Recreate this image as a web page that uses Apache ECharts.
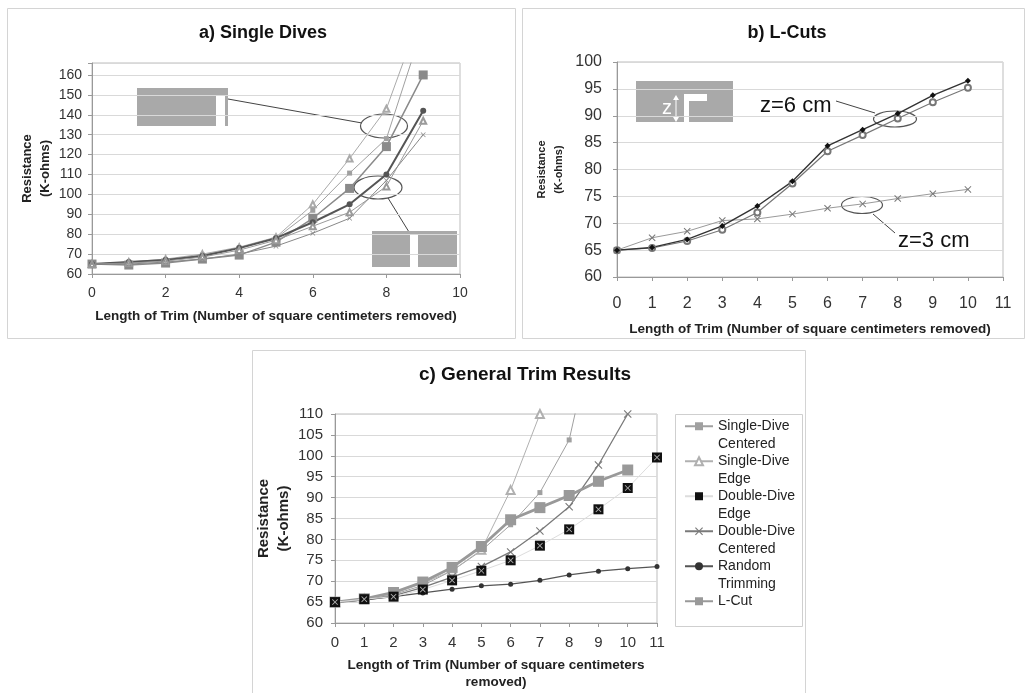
<!DOCTYPE html>
<html><head><meta charset="utf-8">
<script src="https://cdn.jsdelivr.net/npm/echarts@6/dist/echarts.min.js"></script>
<style>html,body{margin:0;padding:0;background:#fff}#c{width:1033px;height:693px}</style>
</head><body><div id="c"></div>
<script>
const FONT = 'Liberation Sans, Arial, sans-serif';

// ---- Panel a) Single Dives ----
const aTrim   = [0, 1, 2, 3, 4, 5, 6, 7, 8, 9];
const aEdge1  = [65, 66, 67.5, 70, 73.5, 78.5, 95, 118, 143, 194];
const aEdge2  = [65, 65.5, 67, 69.5, 73, 78, 92, 110.7, 128, 185];
const aEdge3  = [65, 64.5, 65.5, 67.5, 69.5, 76, 88, 103, 124, 160];
const aCent1  = [65, 66, 67, 69, 73, 78, 86, 95, 110, 142];
const aCent2  = [65, 65.5, 66.5, 68.5, 72, 77, 84, 91, 104, 137];
const aCent3  = [65, 65, 66, 67.5, 70, 74, 80.5, 88, 107, 130];
const aXTicks = [0, 2, 4, 6, 8, 10];
const aYTicks = [60, 70, 80, 90, 100, 110, 120, 130, 140, 150, 160];

// ---- Panel b) L-Cuts ----
const bTrim  = [0, 1, 2, 3, 4, 5, 6, 7, 8, 9, 10];
const bZ6a   = [65, 65.5, 67, 69.5, 73.2, 77.8, 84.4, 87.4, 90.4, 93.8, 96.5];
const bZ6b   = [65, 65.4, 66.7, 68.8, 72, 77.4, 83.4, 86.4, 89.5, 92.5, 95.2];
const bZ3    = [65, 67.3, 68.5, 70.5, 70.8, 71.7, 72.8, 73.6, 74.6, 75.5, 76.3];
const bYTicks = [60, 65, 70, 75, 80, 85, 90, 95, 100];

// ---- Panel c) General Trim Results ----
const cTrim        = [0, 1, 2, 3, 4, 5, 6, 7, 8, 9, 10, 11];
const cSingleCent  = [65, 65.5, 66.8, 69, 72.5, 77.3, 83.5, 91.2, 103.8, 135];
const cSingleEdge  = [65, 65.8, 67, 69.5, 72.5, 77.5, 91.8, 110];
const cDoubleEdge  = [65, 65.7, 66.3, 68, 70.2, 72.5, 75, 78.5, 82.4, 87.2, 92.3, 99.6];
const cDoubleCent  = [65, 65.5, 66.5, 68.5, 71, 73.5, 77, 82, 87.8, 97.8, 110];
const cRandom      = [65, 65.5, 66.3, 67.2, 68.1, 68.9, 69.3, 70.2, 71.5, 72.4, 73, 73.5];
const cLCut        = [65, 65.8, 67.3, 69.8, 73.3, 78.3, 84.7, 87.6, 90.5, 93.9, 96.6];
const cYTicks = [60, 65, 70, 75, 80, 85, 90, 95, 100, 105, 110];
const cNames = ['Single-Dive\nCentered', 'Single-Dive\nEdge', 'Double-Dive\nEdge', 'Double-Dive\nCentered', 'Random\nTrimming', 'L-Cut'];

const xTitle = 'Length of Trim (Number of square centimeters removed)';
const xTitleC = 'Length of Trim (Number of square centimeters\nremoved)';
const yTitle = 'Resistance\n(K-ohms)';

const XPATH = 'path://M0,1 L1,0 L5,4 L9,0 L10,1 L6,5 L10,9 L9,10 L5,6 L1,10 L0,9 L4,5 Z';

function pts(xs, ys) { return ys.map((v, i) => [xs[i], v]); }

function xAx(gi, max, interval, fs, margin, name, nameGap) {
  return {
    type: 'value', gridIndex: gi, min: 0, max: max, interval: interval,
    name: name, nameLocation: 'middle', nameGap: nameGap,
    nameTextStyle: { fontFamily: FONT, fontWeight: 'bold', fontSize: 13.5, color: '#222', lineHeight: 17 },
    axisLine: { show: true, lineStyle: { color: '#999', width: 1 } },
    axisTick: { show: true, length: 4, lineStyle: { color: '#999' } },
    axisLabel: { fontFamily: FONT, fontSize: fs, color: '#333', margin: margin },
    splitLine: { show: false }
  };
}
function yAx(gi, max, interval, fs, margin, nameGap, nameFs, nameLH, ticks) {
  return {
    type: 'value', gridIndex: gi, min: 60, max: max, interval: interval,
    name: yTitle, nameLocation: 'middle', nameRotate: 90, nameGap: nameGap,
    nameTextStyle: { fontFamily: FONT, fontWeight: 'bold', fontSize: nameFs, color: '#222', lineHeight: nameLH },
    axisLine: { show: true, lineStyle: { color: '#999', width: 1 } },
    axisTick: { show: true, length: 4, lineStyle: { color: '#999' } },
    axisLabel: { fontFamily: FONT, fontSize: fs, color: '#333', margin: margin,
      formatter: v => (ticks.indexOf(v) >= 0 ? String(v) : '') },
    splitLine: { show: true, lineStyle: { color: '#d9d9d9', width: 1 } }
  };
}
function ln(name, gi, data, color, symbol, size, width, extra) {
  return Object.assign({
    type: 'line', name: name, xAxisIndex: gi, yAxisIndex: gi, data: data,
    symbol: symbol, symbolSize: size, showSymbol: true, clip: true,
    lineStyle: { color: color, width: width },
    itemStyle: { color: color },
    emphasis: { disabled: true }, animation: false, silent: true
  }, extra || {});
}

const series = [
  // a
  ln('a1', 0, pts(aTrim, aEdge1), '#aaaaaa', 'emptyTriangle', 6, 1),
  ln('a2', 0, pts(aTrim, aEdge2), '#a0a0a0', 'rect', 5, 1),
  ln('a3', 0, pts(aTrim, aEdge3), '#8a8a8a', 'rect', 9, 1.5),
  ln('a4', 0, pts(aTrim, aCent1), '#555555', 'circle', 6, 2),
  ln('a5', 0, pts(aTrim, aCent2), '#9a9a9a', 'emptyTriangle', 6, 1),
  ln('a6', 0, pts(aTrim, aCent3), '#888888', XPATH, 5, 1),
  // b
  ln('b3', 1, pts(bTrim, bZ3), '#9a9a9a', XPATH, 7, 1, { itemStyle: { color: '#777' } }),
  ln('b2', 1, pts(bTrim, bZ6b), '#777777', 'emptyCircle', 6, 1.2),
  ln('b1', 1, pts(bTrim, bZ6a), '#333333', 'diamond', 6, 1.4, { itemStyle: { color: '#111' } }),
  // c
  ln(cNames[0], 2, pts(cTrim, cSingleCent), '#a0a0a0', 'rect', 5, 1),
  ln(cNames[1], 2, pts(cTrim, cSingleEdge), '#b0b0b0', 'emptyTriangle', 8, 1),
  ln(cNames[3], 2, pts(cTrim, cDoubleCent), '#7a7a7a', XPATH, 8, 1.3),
  ln(cNames[4], 2, pts(cTrim, cRandom), '#555555', 'circle', 5, 1.2, { itemStyle: { color: '#333' } }),
  ln(cNames[5], 2, pts(cTrim, cLCut), '#999999', 'rect', 11, 2.8),
  ln(cNames[2], 2, pts(cTrim, cDoubleEdge), '#dddddd', 'rect', 10, 1, { itemStyle: { color: '#111' }, z: 5 }),
  { type: 'scatter', name: 'ddEdgeMark', xAxisIndex: 2, yAxisIndex: 2, data: pts(cTrim, cDoubleEdge),
    symbol: XPATH, symbolSize: 6, itemStyle: { color: '#d8d8d8' }, z: 6, silent: true, animation: false }
];

function T(x, y, text, fs, weight, align, fill) {
  return { type: 'text', x: x, y: y, silent: true,
    style: { text: text, fontFamily: FONT, fontSize: fs, fontWeight: weight || 'normal',
      align: align || 'center', verticalAlign: 'middle', fill: fill || '#111' } };
}
function R(x, y, w, h, fill, stroke) {
  return { type: 'rect', silent: true, shape: { x: x, y: y, width: w, height: h },
    style: { fill: fill || 'none', stroke: stroke || 'none', lineWidth: 1 } };
}
function L(x1, y1, x2, y2, color, w) {
  return { type: 'line', silent: true, shape: { x1: x1, y1: y1, x2: x2, y2: y2 },
    style: { stroke: color || '#444', lineWidth: w || 1 } };
}
function E(cx, cy, rx, ry) {
  return { type: 'ellipse', silent: true, shape: { cx: cx, cy: cy, rx: rx, ry: ry },
    style: { fill: 'none', stroke: '#555', lineWidth: 1.2 } };
}

const graphics = [
  // frames
  R(7.5, 8.5, 508, 330, 'none', '#d4d4d4'),
  R(522.5, 8.5, 502, 330, 'none', '#d4d4d4'),
  R(252.5, 350.5, 553, 345, 'none', '#d4d4d4'),
  // titles
  T(263, 33, 'a) Single Dives', 18, 'bold'),
  T(787, 33, 'b) L-Cuts', 18, 'bold'),
  T(525, 375, 'c) General Trim Results', 19, 'bold'),
  // panel a insets
  R(137, 88, 91, 38, '#a9a9a9'),
  R(216, 96, 9, 30, '#ffffff'),
  L(228, 99, 362, 123),
  E(384, 126, 23.5, 12),
  E(378, 187.5, 24, 11.5),
  L(388, 198, 409, 232),
  R(372, 231, 85, 36, '#a9a9a9'),
  R(410, 235, 8, 32, '#ffffff'),
  // panel b inset
  R(636, 81, 97, 41, '#a9a9a9'),
  R(684, 94, 5, 28, '#ffffff'),
  R(684, 94, 23, 7, '#ffffff'),
  T(667, 108, 'z', 20, 'normal', 'center', '#ffffff'),
  L(676, 97, 676, 120, '#ffffff', 1),
  { type: 'polygon', silent: true, shape: { points: [[673, 100], [676, 95], [679, 100]] }, style: { fill: '#fff' } },
  { type: 'polygon', silent: true, shape: { points: [[673, 117], [676, 122], [679, 117]] }, style: { fill: '#fff' } },
  T(760, 106, 'z=6 cm', 22, 'normal', 'left', '#111'),
  L(836, 101, 875, 113),
  E(895, 119, 21.5, 8),
  E(862, 205, 20.5, 8.5),
  L(873, 214, 895, 233),
  T(898, 241, 'z=3 cm', 22, 'normal', 'left', '#111'),
  // panel c legend box
  R(675.5, 414.5, 127, 212, 'none', '#cfcfcf')
];

const chart = echarts.init(document.getElementById('c'), null, { renderer: 'canvas' });
chart.setOption({
  backgroundColor: '#ffffff',
  animation: false,
  textStyle: { fontFamily: FONT },
  grid: [
    { left: 92, top: 63, width: 368, height: 211, show: true, borderColor: '#bdbdbd', borderWidth: 1, backgroundColor: '#fff', outerBoundsMode: 'none', containLabel: false },
    { left: 617, top: 62, width: 386, height: 215, show: true, borderColor: '#bdbdbd', borderWidth: 1, backgroundColor: '#fff', outerBoundsMode: 'none', containLabel: false },
    { left: 335, top: 414, width: 322, height: 209, show: true, borderColor: '#bdbdbd', borderWidth: 1, backgroundColor: '#fff', outerBoundsMode: 'none', containLabel: false }
  ],
  xAxis: [
    xAx(0, 10, 2, 14, 12, xTitle, 34),
    xAx(1, 11, 1, 16, 19, xTitle, 44),
    xAx(2, 11, 1, 15, 12, xTitleC, 34)
  ],
  yAxis: [
    yAx(0, 166, 10, 14, 10, 31, 13, 18, aYTicks),
    yAx(1, 100, 5, 16, 15, 50, 11, 17, bYTicks),
    yAx(2, 110, 5, 15, 12, 40, 15, 20, cYTicks)
  ],
  legend: {
    show: true, orient: 'vertical', left: 679, top: 395, padding: 5,
    itemWidth: 28, itemHeight: 10, itemGap: -17.5, selectedMode: false,
    textStyle: { fontFamily: FONT, fontSize: 14, lineHeight: 17.5, color: '#222' },
    formatter: n => (n.indexOf('\n') >= 0 ? ' \n' + n : ' \n' + n + '\n '),
    data: cNames
  },
  series: series,
  graphic: graphics
});
</script>
</body></html>
